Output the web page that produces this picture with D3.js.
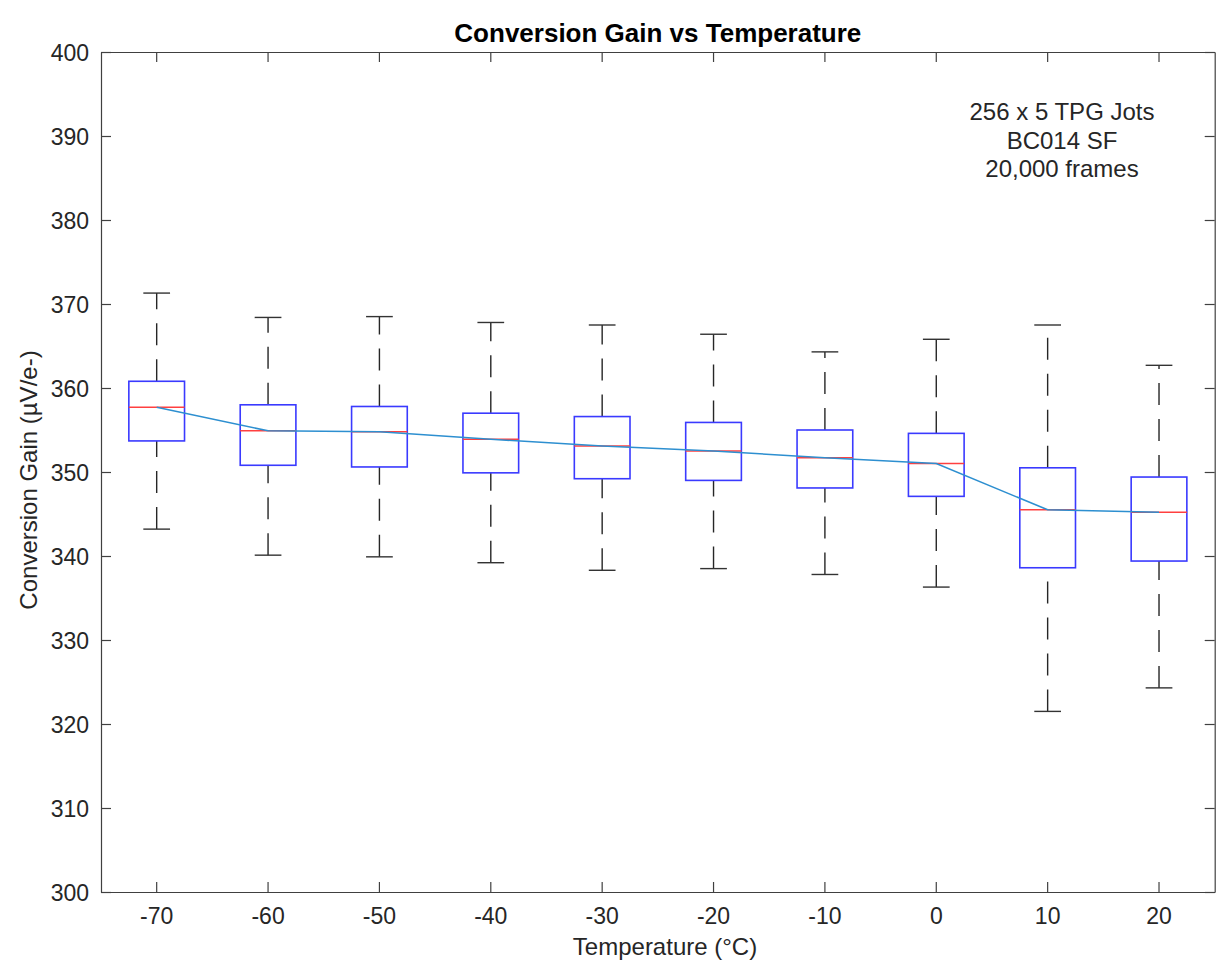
<!DOCTYPE html>
<html>
<head>
<meta charset="utf-8">
<script src="https://cdn.jsdelivr.net/npm/d3@7"></script>
<style>
  html, body { margin: 0; padding: 0; background: #fff; }
  svg { display: block; font-family: "Liberation Sans", Arial, Helvetica, sans-serif; }
</style>
</head>
<body>
<svg id="chart" width="1216" height="960"></svg>
<script>
// ---- data ----
const temperatures = ["-70", "-60", "-50", "-40", "-30", "-20", "-10", "0", "10", "20"];
const whiskerHigh = [371.3, 368.4, 368.5, 367.8, 367.5, 366.4, 364.3, 365.8, 367.5, 362.7];
const q3Values    = [360.8, 358.0, 357.8, 357.0, 356.6, 355.9, 355.0, 354.6, 350.5, 349.4];
const medians     = [357.7, 354.9, 354.8, 353.9, 353.1, 352.5, 351.7, 351.0, 345.5, 345.2];
const q1Values    = [353.7, 350.8, 350.6, 349.9, 349.2, 349.0, 348.1, 347.1, 338.6, 339.4];
const whiskerLow  = [343.2, 340.1, 339.9, 339.2, 338.3, 338.5, 337.8, 336.3, 321.5, 324.3];
const yTicks = [300, 310, 320, 330, 340, 350, 360, 370, 380, 390, 400];
const annotationLines = ["256 x 5 TPG Jots", "BC014 SF", "20,000 frames"];

const rows = temperatures.map((t, i) => ({
  t, hi: whiskerHigh[i], q3: q3Values[i], med: medians[i], q1: q1Values[i], lo: whiskerLow[i]
}));

// ---- layout ----
const L = 101, R = 1214.7, T = 52, B = 892;
const svg = d3.select("#chart");
const axisColor = "#404040";
const textColor = "#262626";

const x = d3.scaleBand().domain(temperatures).range([L, R]).paddingInner(0).paddingOuter(0);
const y = d3.scaleLinear().domain([300, 400]).range([B, T]);
const cx = t => x(t) + x.bandwidth() / 2;
const bw = x.bandwidth() * 0.5;
const capW = x.bandwidth() * 0.24;

// ---- axes ----
const gx = svg.append("g").attr("transform", `translate(0,${B})`)
  .call(d3.axisBottom(x).tickSize(-10).tickSizeOuter(0).tickPadding(16));
const gxTop = svg.append("g").attr("transform", `translate(0,${T})`)
  .call(d3.axisTop(x).tickSize(-10).tickSizeOuter(0).tickFormat(""));
const gy = svg.append("g").attr("transform", `translate(${L},0)`)
  .call(d3.axisLeft(y).tickValues(yTicks).tickSize(-10).tickSizeOuter(0).tickPadding(12));
const gyR = svg.append("g").attr("transform", `translate(${R},0)`)
  .call(d3.axisRight(y).tickValues(yTicks).tickSize(-10).tickSizeOuter(0).tickFormat(""));

[gx, gxTop, gy, gyR].forEach(g => {
  g.select(".domain").attr("stroke", axisColor).attr("stroke-width", 1.2);
  g.selectAll(".tick line").attr("stroke", axisColor).attr("stroke-width", 1.2);
  g.selectAll(".tick text").attr("fill", textColor).style("font-size", "23px")
    .style("font-family", "'Liberation Sans', Arial, sans-serif");
});
gy.selectAll(".tick text").attr("dy", "0.36em");

// ---- boxes ----
const g = svg.append("g");
rows.forEach(d => {
  const c = cx(d.t);
  // whiskers dashed, drawn from low value to high value
  g.append("line").attr("x1", c).attr("x2", c).attr("y1", y(d.q3)).attr("y2", y(d.hi))
    .attr("stroke", "#262626").attr("stroke-width", 1.4).attr("stroke-dasharray", "22,14");
  g.append("line").attr("x1", c).attr("x2", c).attr("y1", y(d.lo)).attr("y2", y(d.q1))
    .attr("stroke", "#262626").attr("stroke-width", 1.4).attr("stroke-dasharray", "22,14");
  // caps
  [d.hi, d.lo].forEach(v => {
    g.append("line").attr("x1", c - capW / 2).attr("x2", c + capW / 2)
      .attr("y1", y(v)).attr("y2", y(v)).attr("stroke", "#333").attr("stroke-width", 1.4);
  });
  // box
  g.append("rect").attr("x", c - bw / 2).attr("width", bw)
    .attr("y", y(d.q3)).attr("height", y(d.q1) - y(d.q3))
    .attr("fill", "none").attr("stroke", "#3a3aff").attr("stroke-width", 1.6);
  // median
  g.append("line").attr("x1", c - bw / 2).attr("x2", c + bw / 2)
    .attr("y1", y(d.med)).attr("y2", y(d.med)).attr("stroke", "#ff4040").attr("stroke-width", 1.5);
});

// median trend line
svg.append("path").datum(rows)
  .attr("fill", "none").attr("stroke", "#2d8fd0").attr("stroke-width", 1.5)
  .attr("d", d3.line().x(d => cx(d.t)).y(d => y(d.med)));

// ---- texts ----
svg.append("text").attr("x", (L + R) / 2).attr("y", 42).attr("text-anchor", "middle")
  .attr("fill", "#000").style("font-size", "26px").style("font-weight", "bold")
  .text("Conversion Gain vs Temperature");

svg.append("text").attr("x", 665).attr("y", 955).attr("text-anchor", "middle")
  .attr("fill", textColor).style("font-size", "24px").text("Temperature (°C)");

svg.append("text").attr("transform", `translate(37,${(T + B) / 2 + 8}) rotate(-90)`)
  .attr("text-anchor", "middle").attr("fill", textColor).style("font-size", "24px")
  .text("Conversion Gain (µV/e-)");

const ann = svg.append("text").attr("text-anchor", "middle").attr("fill", textColor)
  .style("font-size", "24px");
annotationLines.forEach((s, i) => {
  ann.append("tspan").attr("x", 1062).attr("y", 120 + i * 28.5).text(s);
});
</script>
</body>
</html>
